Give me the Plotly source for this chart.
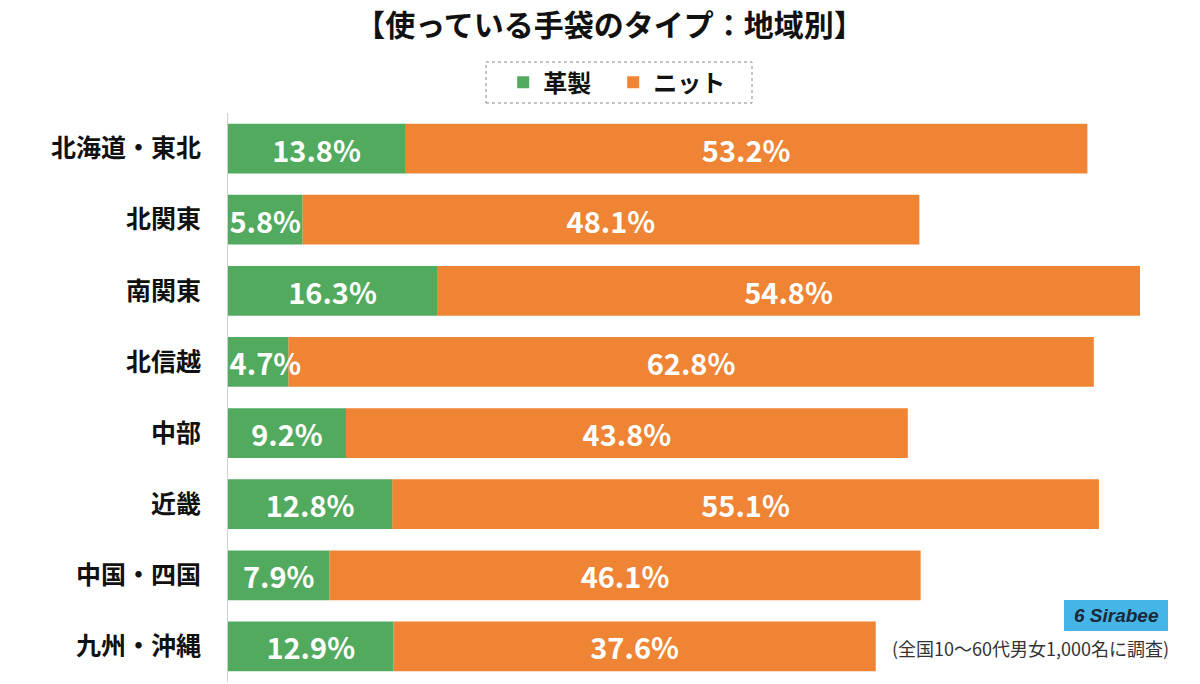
import plotly.graph_objects as go

categories = ["北海道・東北", "北関東", "南関東", "北信越", "中部", "近畿", "中国・四国", "九州・沖縄"]
leather = [13.8, 5.8, 16.3, 4.7, 9.2, 12.8, 7.9, 12.9]
knit = [53.2, 48.1, 54.8, 62.8, 43.8, 55.1, 46.1, 37.6]
series_names = ["革製", "ニット"]
title_text = "【使っている手袋のタイプ：地域別】"
note_text = "(全国10～60代男女1,000名に調査)"

GREEN = "#52AA5E"
ORANGE = "#EE8434"
FONT = "Noto Sans CJK JP"


def label(v):
    # narrow bars: nudge the centred label right so it stays off the white margin
    pad = "\u2002" if v < 5 else ""
    return f"{pad}{v:.1f}%"


common = dict(orientation="h", textposition="inside", insidetextanchor="middle",
              constraintext="none", cliponaxis=False, hoverinfo="skip",
              textfont=dict(family=FONT, size=29, color="white", weight="bold"))

fig = go.Figure()
# knit drawn first (stacked on top of leather via base) so leather labels overlay it
fig.add_trace(go.Bar(y=categories, x=knit, base=leather, name=series_names[1],
                     marker=dict(color=ORANGE, line=dict(width=0)),
                     text=[label(v) for v in knit], **common))
fig.add_trace(go.Bar(y=categories, x=leather, name=series_names[0],
                     marker=dict(color=GREEN, line=dict(width=0)),
                     text=[label(v) for v in leather], **common))

fig.update_layout(
    barmode="overlay",
    bargap=0.3,
    width=1200, height=684,
    margin=dict(l=228, r=10, t=113, b=2),
    plot_bgcolor="white", paper_bgcolor="white",
    font=dict(family=FONT),
    title=dict(text=title_text, x=0.508, y=0.963, xref="container", yref="container",
               xanchor="center", yanchor="middle",
               font=dict(family=FONT, size=30, color="#111", weight="bold")),
    legend=dict(orientation="h", xref="container", yref="container",
                x=0.511, y=0.879, xanchor="center", yanchor="middle",
                font=dict(family=FONT, size=24, color="#111", weight="bold"),
                bgcolor="rgba(0,0,0,0)", itemwidth=30, traceorder="reversed",
                entrywidth=65),
    showlegend=True,
    xaxis=dict(range=[0, 75], visible=False, fixedrange=True),
    yaxis=dict(autorange="reversed", showline=True, linecolor="#d0d0d0", linewidth=1,
               showgrid=False, ticks="", ticklabelstandoff=21, fixedrange=True,
               tickfont=dict(family=FONT, size=25, color="#111", weight="bold")),
)

# dotted legend frame
fig.add_shape(type="rect", xref="paper", yref="paper",
              x0=(486 - 228) / 962, x1=(752 - 228) / 962,
              y0=(682 - 103) / 569, y1=(682 - 62) / 569,
              line=dict(color="#888", width=1, dash="dot"), fillcolor="rgba(0,0,0,0)")

# Sirabee logo
fig.add_shape(type="rect", xref="paper", yref="paper",
              x0=(1064 - 228) / 962, x1=(1168 - 228) / 962,
              y0=(682 - 631) / 569, y1=(682 - 600) / 569,
              line=dict(width=0), fillcolor="#45B4E6")
fig.add_annotation(xref="paper", yref="paper",
                   x=(1116 - 228) / 962, y=(682 - 615.5) / 569,
                   text="<b><i>6 Sirabee</i></b>", showarrow=False,
                   font=dict(family="Liberation Sans", size=19, color="#1b2a3a"),
                   xanchor="center", yanchor="middle")
fig.add_annotation(xref="paper", yref="paper",
                   x=(1030 - 228) / 962, y=(682 - 648) / 569,
                   text=note_text, showarrow=False,
                   font=dict(family=FONT, size=18, color="#333"),
                   xanchor="center", yanchor="middle")

fig.write_html("out.html", post_script="document.body.style.margin='0';",
               config={"displayModeBar": False})
